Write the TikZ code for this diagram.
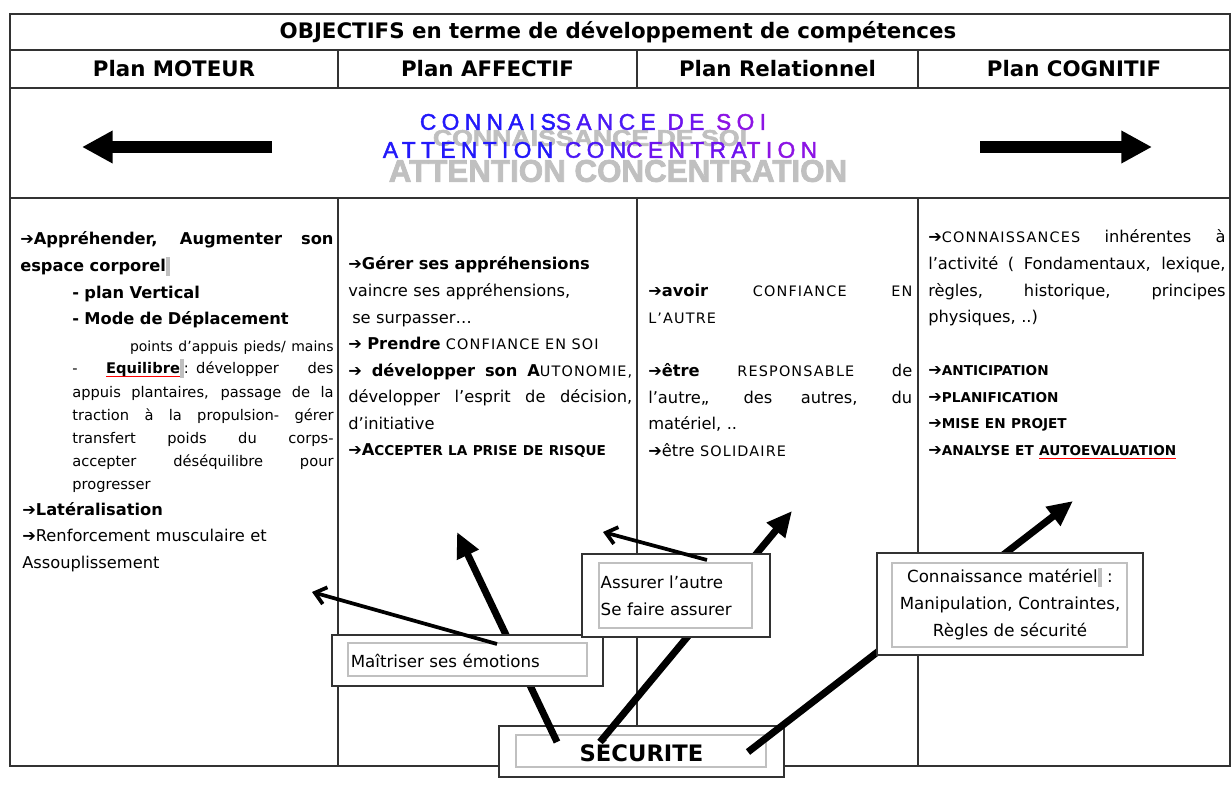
\documentclass[tikz,border=0pt]{standalone}
\usepackage{fontspec}
\setmainfont{DejaVu Sans}
\newfontfamily\bannerfont[LetterSpace=24,FakeBold=2]{Liberation Sans}
\newfontfamily\ombrefont[FakeBold=2.5]{Liberation Sans Bold}
\usetikzlibrary{arrows.meta}
\definecolor{trait}{RGB}{50,50,50}
\definecolor{gris}{RGB}{192,192,192}
\definecolor{bleuA}{RGB}{35,25,250}
\definecolor{bleuB}{RGB}{75,25,245}
\definecolor{violetA}{RGB}{110,20,238}
\definecolor{violetB}{RGB}{140,20,228}
\newcommand{\fl}{➔}
\newcommand{\pc}[1]{{\fontsize{10.8}{11}\selectfont\addfontfeatures{LetterSpace=8}#1}}
\newcommand{\pcb}[1]{{\fontsize{10.2}{11}\selectfont\bfseries #1}}
\newcommand{\jl}[1]{\makebox[\linewidth][s]{\spaceskip=.3333em plus 20em\relax #1}}
\newcommand{\curseur}{\textcolor{gris}{\rule[-3pt]{3pt}{14pt}}}
\newsavebox{\soulbox}
\newcommand{\souligne}[1]{\sbox{\soulbox}{#1}\rlap{\textcolor{red}{\rule[-2.5pt]{\wd\soulbox}{0.8pt}}}\usebox{\soulbox}}

\begin{document}
\begin{tikzpicture}[x=0.75pt,y=0.75pt,yscale=-1,xscale=1,
	grille/.style={draw=trait, line width=1.1pt},
	entete/.style={font=\fontsize{16}{18}\selectfont\bfseries, inner sep=0pt},
	texte/.style={anchor=base west, inner sep=0pt, align=left, font=\fontsize{12.2}{19.9}\selectfont},
	cadre/.style={draw=trait, line width=1.5pt, fill=white, inner sep=0pt, font=\fontsize{12.5}{20}\selectfont},
	cadreint/.style={draw=gris, line width=1pt},
	grosse/.style={line width=5.25pt, -{Triangle[length=19pt,width=17pt]}},
	fine/.style={line width=2.8pt, -{Straight Barb[length=8pt,width=13pt]}},
	bandeau/.style={line width=9pt, -{Triangle[length=23pt,width=23pt]}}]
	\useasboundingbox (0,0) rectangle (1232,791);
	
	%Table
	\draw [grille] (10,14) rectangle (1230,766);
	\draw [grille] (10,50) -- (1230,50) (10,88) -- (1230,88) (10,198) -- (1230,198);
	\foreach \x in {338,637,918} {
		\draw [grille] (\x,50) -- (\x,88) (\x,198) -- (\x,766);
	}
	
	% Titles
	\node [entete] (titre) at (618,32) {OBJECTIFS en terme de développement de compétences};
	\node [entete] (moteur) at (174,69) {Plan MOTEUR};
	\node [entete] (affectif) at (487.5,69) {Plan AFFECTIF};
	\node [entete] (relationnel) at (777.5,69) {Plan Relationnel};
	\node [entete] (cognitif) at (1074,69) {Plan COGNITIF};
	
	% Banner
	\node [text=gris, inner sep=0pt, font=\ombrefont\fontsize{20}{20}\selectfont, yscale=0.85] (ombreSoi) at (590,138) {CONNAISSANCE DE SOI};
	\node [text=gris, inner sep=0pt, font=\ombrefont\fontsize{23.5}{23.5}\selectfont] (ombreAttention) at (618,171) {ATTENTION CONCENTRATION};
	\node [inner sep=0pt, font=\bannerfont\fontsize{17}{17}\selectfont] (soi) at (593,122) {\textcolor{bleuA}{CONNAIS}\textcolor{bleuB}{SANCE} \textcolor{violetA}{DE} \textcolor{violetB}{SOI}};
	\node [inner sep=0pt, font=\bannerfont\fontsize{17}{17}\selectfont] (attention) at (600,150) {\textcolor{bleuA}{ATTENTION} \textcolor{bleuB}{CON}\textcolor{violetA}{CENTRA}\textcolor{violetB}{TION}};
	\coordinate (queueG) at (272,147);
	\coordinate (pointeG) at (82,147);
	\coordinate (queueD) at (980,147);
	\coordinate (pointeD) at (1152,147);
	\draw [bandeau] (queueG) -- (pointeG);
	\draw [bandeau] (queueD) -- (pointeD);
	
	% Plan MOTEUR
	\node [texte, text width=235pt] (moteurA) at (20,245) {\jl{\textbf{\fl Appréhender, Augmenter son}}\\
		\textbf{espace corporel}\curseur\\
		\hspace*{39pt}\textbf{- plan Vertical}\\
		\hspace*{39pt}\textbf{- Mode de Déplacement}\\
		\hfill{\fontsize{10.5}{12}\selectfont points d’appuis pieds/ mains}};
	\node [texte, text width=196pt, font=\fontsize{11}{17.3}\selectfont] (equilibre) at (72,374) {\jl{- \souligne{\textbf{Equilibre}}\curseur : développer des}\\
		\jl{appuis plantaires, passage de la}\\
		\jl{traction à la propulsion- gérer}\\
		\jl{transfert poids du corps-}\\
		\jl{accepter déséquilibre pour}\\
		progresser};
	\node [texte, text width=235pt, font=\fontsize{12.2}{20.2}\selectfont] (moteurB) at (22,515) {\textbf{\fl Latéralisation}\\
		\fl Renforcement musculaire et\\
		Assouplissement};
	
	% Plan AFFECTIF
	\node [texte, text width=213pt] (affectifA) at (348,270) {\textbf{\fl Gérer ses appréhensions}\\
		vaincre ses appréhensions,\\
		\hspace*{3pt}se surpasser\ldots\\
		\fl\ \textbf{Prendre} \pc{CONFIANCE EN SOI}\\
		\jl{\fl\ \textbf{développer son A}\pc{UTONOMIE,}}\\
		\jl{développer l’esprit de décision,}\\
		d’initiative\\
		\fl\textbf{A}\pcb{CCEPTER LA PRISE DE RISQUE}};
	
	% Plan Relationnel
	\node [texte, text width=198pt] (relationnelA) at (648,297) {\jl{\fl\textbf{avoir} \pc{CONFIANCE EN}}\\
		\pc{L’AUTRE}\\[19.9pt]
		\jl{\fl\textbf{être} \pc{RESPONSABLE} de}\\
		\jl{l’autre,, des autres, du}\\
		matériel, ..\\
		\fl être \pc{SOLIDAIRE}};
	
	% Plan COGNITIF
	\node [texte, text width=223pt] (cognitifA) at (928,243) {\jl{\fl\pc{CONNAISSANCES} inhérentes à}\\
		\jl{l’activité ( Fondamentaux, lexique,}\\
		\jl{règles, historique, principes}\\
		physiques, ..)\\[19.9pt]
		\fl\pcb{ANTICIPATION}\\
		\fl\pcb{PLANIFICATION}\\
		\fl\pcb{MISE EN PROJET}\\
		\fl\pcb{ANALYSE ET \souligne{AUTOEVALUATION}}};
	
	% SECURITE
	\node [cadre, minimum width=213.75pt, minimum height=38.25pt, font=\fontsize{17}{20}\selectfont\bfseries] (securite) at (641.5,751.5) {SÉCURITE};
	\draw [cadreint] ([shift={(18,10)}]securite.north west) rectangle ([shift={(-19,-11)}]securite.south east);
	
	% Arrows from SECURITE
	\coordinate (versAffectif) at (457,532);
	\coordinate (versRelationnel) at (792,511);
	\coordinate (versCognitif) at (1073,501);
	\coordinate (versMoteur) at (312,592);
	\coordinate (versAffectifB) at (603,532);
	\draw [grosse] ([shift={(-84.5,-9.5)}]securite.center) -- (versAffectif);
	\draw [grosse] ([shift={(-41.5,-9.5)}]securite.center) -- (versRelationnel);
	\draw [grosse] ([shift={(106.5,0.5)}]securite.center) -- (versCognitif);
	
	% Boxes
	\node [cadre, minimum width=203.25pt, minimum height=38.25pt, inner xsep=14pt, text width=175pt, align=left] (maitrise) at (467.5,660.5) {Maîtriser ses émotions};
	\draw [cadreint] ([shift={(17,9)}]maitrise.north west) rectangle ([shift={(-17,-11)}]maitrise.south east);
	\node [cadre, minimum width=141pt, minimum height=62.25pt, inner xsep=14pt, text width=113pt, align=left] (assurer) at (676,595.5) {Assurer l’autre\\Se faire assurer};
	\draw [cadreint] ([shift={(18,10)}]assurer.north west) rectangle ([shift={(-19,-10)}]assurer.south east);
	\node [cadre, minimum width=199.5pt, minimum height=76.5pt, inner xsep=8pt, text width=183.5pt, align=center] (materiel) at (1010,604) {Connaissance matériel\curseur\ :\\Manipulation, Contraintes,\\Règles de sécurité};
	\draw [cadreint] ([shift={(16,11)}]materiel.north west) rectangle ([shift={(-17,-9)}]materiel.south east);
	
	\draw [fine] ([shift={(29.5,-16.5)}]maitrise.center) -- (versMoteur);
	\draw [fine] ([shift={(31,-35.5)}]assurer.center) -- (versAffectifB);
	
\end{tikzpicture}
\end{document}
